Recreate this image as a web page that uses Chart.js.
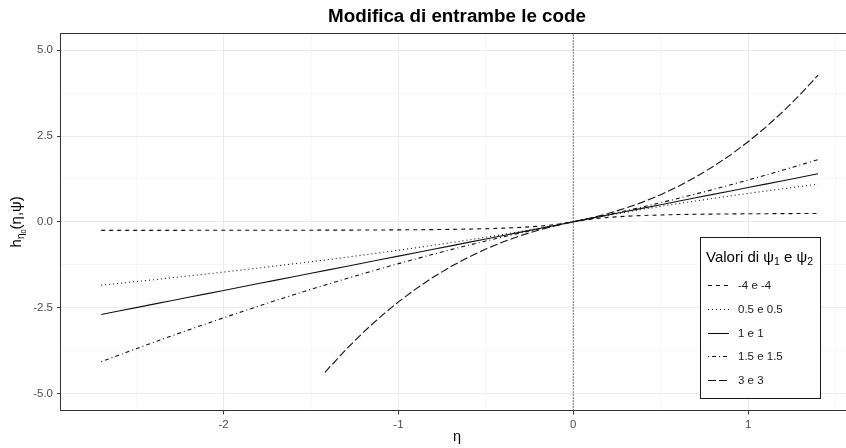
<!DOCTYPE html>
<html><head><meta charset="utf-8">
<script src="https://cdn.jsdelivr.net/npm/chart.js@4/dist/chart.umd.min.js"></script>
<style>
html,body{margin:0;padding:0;overflow:hidden;background:#fff;width:846px;height:448px}
#wrap{width:846px;height:448px;overflow:hidden;position:relative}
canvas{display:block}
</style></head>
<body><div id="wrap"><canvas id="c" width="860" height="448"></canvas></div>
<script>
// ---- data ----
const eta = [-2.7,-2.6,-2.5,-2.4,-2.3,-2.2,-2.1,-2.0,-1.9,-1.8,-1.7,-1.6,-1.5,-1.4,-1.3,-1.2,-1.1,-1.0,-0.9,-0.8,-0.7,-0.6,-0.5,-0.4,-0.3,-0.2,-0.1,0,0.1,0.2,0.3,0.4,0.5,0.6,0.7,0.8,0.9,1.0,1.1,1.2,1.3,1.4];
const hPsiM4 = [-0.2487,-0.2485,-0.2483,-0.2481,-0.2479,-0.2476,-0.2473,-0.2469,-0.2465,-0.2459,-0.2453,-0.2445,-0.2436,-0.2425,-0.2411,-0.2393,-0.2371,-0.2344,-0.2308,-0.2262,-0.2201,-0.2119,-0.2006,-0.1849,-0.1625,-0.1294,-0.0792,0,0.0792,0.1294,0.1625,0.1849,0.2006,0.2119,0.2201,0.2262,0.2308,0.2344,0.2371,0.2393,0.2411,0.2425];
const hPsi05 = [-1.8471,-1.7947,-1.7417,-1.6878,-1.6332,-1.5777,-1.5214,-1.4641,-1.4059,-1.3466,-1.2863,-1.2249,-1.1623,-1.0984,-1.0332,-0.9665,-0.8983,-0.8284,-0.7568,-0.6833,-0.6077,-0.5298,-0.4495,-0.3664,-0.2804,-0.1909,-0.0976,0,0.0976,0.1909,0.2804,0.3664,0.4495,0.5298,0.6077,0.6833,0.7568,0.8284,0.8983,0.9665,1.0332,1.0984];
const hPsi1 = [-2.7,-2.6,-2.5,-2.4,-2.3,-2.2,-2.1,-2.0,-1.9,-1.8,-1.7,-1.6,-1.5,-1.4,-1.3,-1.2,-1.1,-1.0,-0.9,-0.8,-0.7,-0.6,-0.5,-0.4,-0.3,-0.2,-0.1,0,0.1,0.2,0.3,0.4,0.5,0.6,0.7,0.8,0.9,1.0,1.1,1.2,1.3,1.4];
const hPsi15 = [-4.0781,-3.887,-3.6986,-3.5129,-3.3298,-3.1496,-2.9721,-2.7974,-2.6257,-2.4569,-2.291,-2.1282,-1.9686,-1.812,-1.6588,-1.5088,-1.3621,-1.219,-1.0793,-0.9433,-0.811,-0.6826,-0.5581,-0.4377,-0.3215,-0.2097,-0.1025,0,0.1025,0.2097,0.3215,0.4377,0.5581,0.6826,0.811,0.9433,1.0793,1.219,1.3621,1.5088,1.6588,1.812];
const etaPsi3 = [-1.42,-1.4,-1.3,-1.2,-1.1,-1.0,-0.9,-0.8,-0.7,-0.6,-0.5,-0.4,-0.3,-0.2,-0.1,0,0.1,0.2,0.3,0.4,0.5,0.6,0.7,0.8,0.9,1.0,1.1,1.2,1.3,1.4];
const hPsi3 = [-4.3908,-4.2747,-3.7223,-3.216,-2.7537,-2.3333,-1.953,-1.6107,-1.3043,-1.032,-0.7917,-0.5813,-0.399,-0.2427,-0.1103,0,0.1103,0.2427,0.399,0.5813,0.7917,1.032,1.3043,1.6107,1.953,2.3333,2.7537,3.216,3.7223,4.2747];
const seriesLabels = ['-4 e -4','0.5 e 0.5','1 e 1','1.5 e 1.5','3 e 3'];
const xMajorTicks = [-2,-1,0,1];
const xTickLabels = ['-2','-1','0','1'];
const xMinorTicks = [-2.5,-1.5,-0.5,0.5,1.5];
const yMajorTicks = [-5,-2.5,0,2.5,5];
const yTickLabels = ['-5.0','-2.5','0.0','2.5','5.0'];
const yMinorTicks = [-3.75,-1.25,1.25,3.75];
const vlineX = 0;
const xMin = -2.93, xMax = 1.6, yMin = -5.5, yMax = 5.5;
const titleText = 'Modifica di entrambe le code';

// ---- drawing ----
const FONT = 'Liberation Sans, Arial, Helvetica, sans-serif';
Chart.defaults.font.family = FONT;
const pts = (xs, ys) => xs.map((x, i) => ({x, y: ys[i]}));
const lineDs = (label, xs, ys, dash) => ({label, data: pts(xs, ys), borderColor: '#111', borderWidth: 1.1,
  borderDash: dash, pointRadius: 0, fill: false, tension: 0});

const datasets = [
  lineDs(seriesLabels[0], eta, hPsiM4, [4, 4]),
  lineDs(seriesLabels[1], eta, hPsi05, [1, 3]),
  lineDs(seriesLabels[2], eta, hPsi1, []),
  lineDs(seriesLabels[3], eta, hPsi15, [1, 3, 4, 3]),
  lineDs(seriesLabels[4], etaPsi3, hPsi3, [8, 3]),
  {label: '_vline', isRef: true, data: [{x: vlineX, y: yMin}, {x: vlineX, y: yMax}], borderColor: '#000',
   borderWidth: 1, borderDash: [1, 2], pointRadius: 0, fill: false}
];

const isMajorX = v => xMajorTicks.includes(v);
const isMajorY = v => yMajorTicks.includes(v);

const panelBorder = {
  id: 'panelBorder',
  afterDatasetsDraw(chart) {
    const {ctx, chartArea: a} = chart;
    ctx.save();
    ctx.strokeStyle = '#333333';
    ctx.lineWidth = 1;
    ctx.setLineDash([]);
    const l = Math.round(a.left) - 0.5, t = Math.round(a.top) + 0.5, b = Math.round(a.bottom) - 0.5, r = Math.round(a.right) - 0.5;
    ctx.strokeRect(l, t, r - l, b - t);
    ctx.restore();
  }
};

function drawRich(ctx, parts, x, y) {
  let cx = x;
  for (const [txt, size, dy] of parts) {
    ctx.font = size + 'px ' + FONT;
    ctx.fillText(txt, cx, y + dy);
    cx += ctx.measureText(txt).width;
  }
  return cx - x;
}
function richWidth(ctx, parts) {
  let w = 0;
  for (const [txt, size] of parts) { ctx.font = size + 'px ' + FONT; w += ctx.measureText(txt).width; }
  return w;
}

const extras = {
  id: 'extras',
  afterDraw(chart) {
    const {ctx, chartArea: a} = chart;
    ctx.save();
    // y-axis title
    const yParts = [['h', 15, 0], ['η', 10, 4.5], ['0', 7.5, 7], ['(η,ψ)', 15, 0]];
    ctx.translate(17, (a.top + a.bottom) / 2);
    ctx.rotate(-Math.PI / 2);
    ctx.fillStyle = '#000';
    ctx.textBaseline = 'middle';
    ctx.textAlign = 'left';
    const w = richWidth(ctx, yParts);
    drawRich(ctx, yParts, -w / 2, 0);
    ctx.restore();

    // legend
    ctx.save();
    const bx = 700.5, by = 237.5, bw = 120, bh = 161;
    ctx.fillStyle = '#fff';
    ctx.fillRect(bx, by, bw, bh);
    ctx.strokeStyle = '#1a1a1a';
    ctx.lineWidth = 1;
    ctx.setLineDash([]);
    ctx.strokeRect(bx, by, bw, bh);
    ctx.fillStyle = '#000';
    ctx.textBaseline = 'middle';
    ctx.textAlign = 'left';
    drawRich(ctx, [['Valori di ψ', 15, 0], ['1', 10.5, 4], [' e ψ', 15, 0], ['2', 10.5, 4]], 706, 258);
    const items = chart.data.datasets.filter(d => !d.isRef);
    items.forEach((d, i) => {
      const yy = Math.round(285 + i * 23.8) + 0.5;
      ctx.strokeStyle = d.borderColor;
      ctx.lineWidth = d.borderWidth;
      ctx.setLineDash(d.borderDash || []);
      ctx.beginPath();
      ctx.moveTo(708, yy);
      ctx.lineTo(729, yy);
      ctx.stroke();
      ctx.font = '11.5px ' + FONT;
      ctx.fillStyle = '#1a1a1a';
      ctx.fillText(d.label, 738, yy);
    });
    ctx.restore();
  }
};

new Chart(document.getElementById('c'), {
  type: 'line',
  data: {datasets},
  options: {
    responsive: false,
    devicePixelRatio: 1,
    animation: false,
    layout: {padding: {left: 0, right: 7, top: 0, bottom: 0}},
    plugins: {
      legend: {display: false},
      tooltip: {enabled: false},
      title: {display: true, text: titleText, fullSize: false, color: '#000',
        font: {size: 18.8, weight: 'bold', family: FONT, lineHeight: 1.2}, padding: {top: 6, bottom: 4.6}}
    },
    scales: {
      x: {
        type: 'linear', min: xMin, max: xMax,
        afterBuildTicks: s => { s.ticks = [...xMajorTicks, ...xMinorTicks].sort((p, q) => p - q).map(v => ({value: v})); },
        afterFit: s => { s.height = 37.5; },
        ticks: {autoSkip: false, maxRotation: 0, padding: 3, color: '#4D4D4D', font: {size: 11.5},
          callback: v => { const i = xMajorTicks.indexOf(v); return i >= 0 ? xTickLabels[i] : ''; }},
        grid: {color: c => isMajorX(c.tick.value) ? '#EBEBEB' : '#F3F3F3',
          lineWidth: c => isMajorX(c.tick.value) ? 1.1 : 0.7,
          tickColor: c => isMajorX(c.tick.value) ? '#333333' : 'rgba(0,0,0,0)',
          tickLength: 4, tickWidth: 1},
        border: {display: false},
        title: {display: true, text: 'η', color: '#000', font: {size: 14.5}, padding: {top: 0, bottom: 2}}
      },
      y: {
        type: 'linear', min: yMin, max: yMax,
        afterBuildTicks: s => { s.ticks = [...yMajorTicks, ...yMinorTicks].sort((p, q) => p - q).map(v => ({value: v})); },
        afterFit: s => { s.width = 61; },
        ticks: {autoSkip: false, padding: 4, color: '#4D4D4D', font: {size: 11.5},
          callback: v => { const i = yMajorTicks.indexOf(v); return i >= 0 ? yTickLabels[i] : ''; }},
        grid: {color: c => isMajorY(c.tick.value) ? '#EBEBEB' : '#F3F3F3',
          lineWidth: c => isMajorY(c.tick.value) ? 1.1 : 0.7,
          tickColor: c => isMajorY(c.tick.value) ? '#333333' : 'rgba(0,0,0,0)',
          tickLength: 4, tickWidth: 1},
        border: {display: false}
      }
    }
  },
  plugins: [panelBorder, extras]
});
</script>
</body></html>
